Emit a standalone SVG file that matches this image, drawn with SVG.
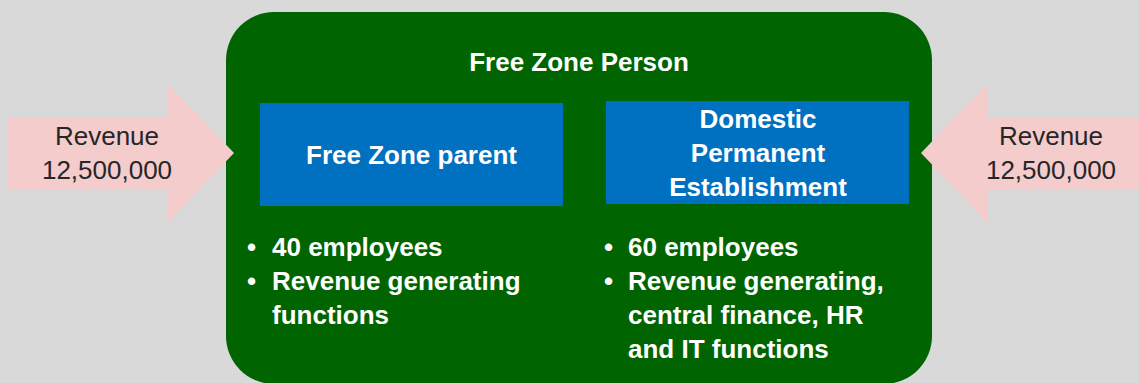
<svg xmlns="http://www.w3.org/2000/svg" width="1139" height="383" viewBox="0 0 1139 383">
<style>
.bg{fill:#d9d9d9}
.zone{fill:#006400}
.box{fill:#0070c0}
.arrow{fill:#f4cccc}
.w{fill:#ffffff;font-family:"Liberation Sans",Arial,sans-serif;font-weight:bold;font-size:26px}
.c{text-anchor:middle}
.rev{fill:#262626;font-family:"Liberation Sans",Arial,sans-serif;font-size:26px;text-anchor:middle}
</style>
<rect class="bg" x="0" y="0" width="1139" height="383"/>
<g id="free-zone-person">
<rect class="zone" x="226" y="12" width="706" height="372" rx="48" ry="48"/>
<text class="w c" x="579" y="71">Free Zone Person</text>
</g>
<g id="free-zone-parent">
<rect class="box" x="260" y="103" width="303" height="103"/>
<text class="w c" x="411.5" y="164">Free Zone parent</text>
</g>
<g id="domestic-pe">
<rect class="box" x="606" y="101" width="303" height="103"/>
<text class="w c" x="758" y="128">Domestic</text>
<text class="w c" x="758" y="162">Permanent</text>
<text class="w c" x="758" y="196">Establishment</text>
</g>
<g id="parent-bullets">
<text class="w" x="247" y="256">•</text>
<text class="w" x="272" y="256">40 employees</text>
<text class="w" x="247" y="290">•</text>
<text class="w" x="272" y="290">Revenue generating</text>
<text class="w" x="272" y="324">functions</text>
</g>
<g id="pe-bullets">
<text class="w" x="604" y="256">•</text>
<text class="w" x="628" y="256">60 employees</text>
<text class="w" x="604" y="290">•</text>
<text class="w" x="628" y="290">Revenue generating,</text>
<text class="w" x="628" y="324">central finance, HR</text>
<text class="w" x="628" y="358">and IT functions</text>
</g>
<g id="connectors">
<g id="revenue-left">
<polygon class="arrow" points="8,117 167,117 167,83 234,153 167,223 167,190 8,190"/>
<text class="rev" x="107" y="145">Revenue</text>
<text class="rev" x="107" y="179">12,500,000</text>
</g>
<g id="revenue-right">
<polygon class="arrow" points="1139,117 988,117 988,83 921,153 988,223 988,190 1139,190"/>
<text class="rev" x="1051" y="145">Revenue</text>
<text class="rev" x="1051" y="179">12,500,000</text>
</g>
</g>
</svg>
